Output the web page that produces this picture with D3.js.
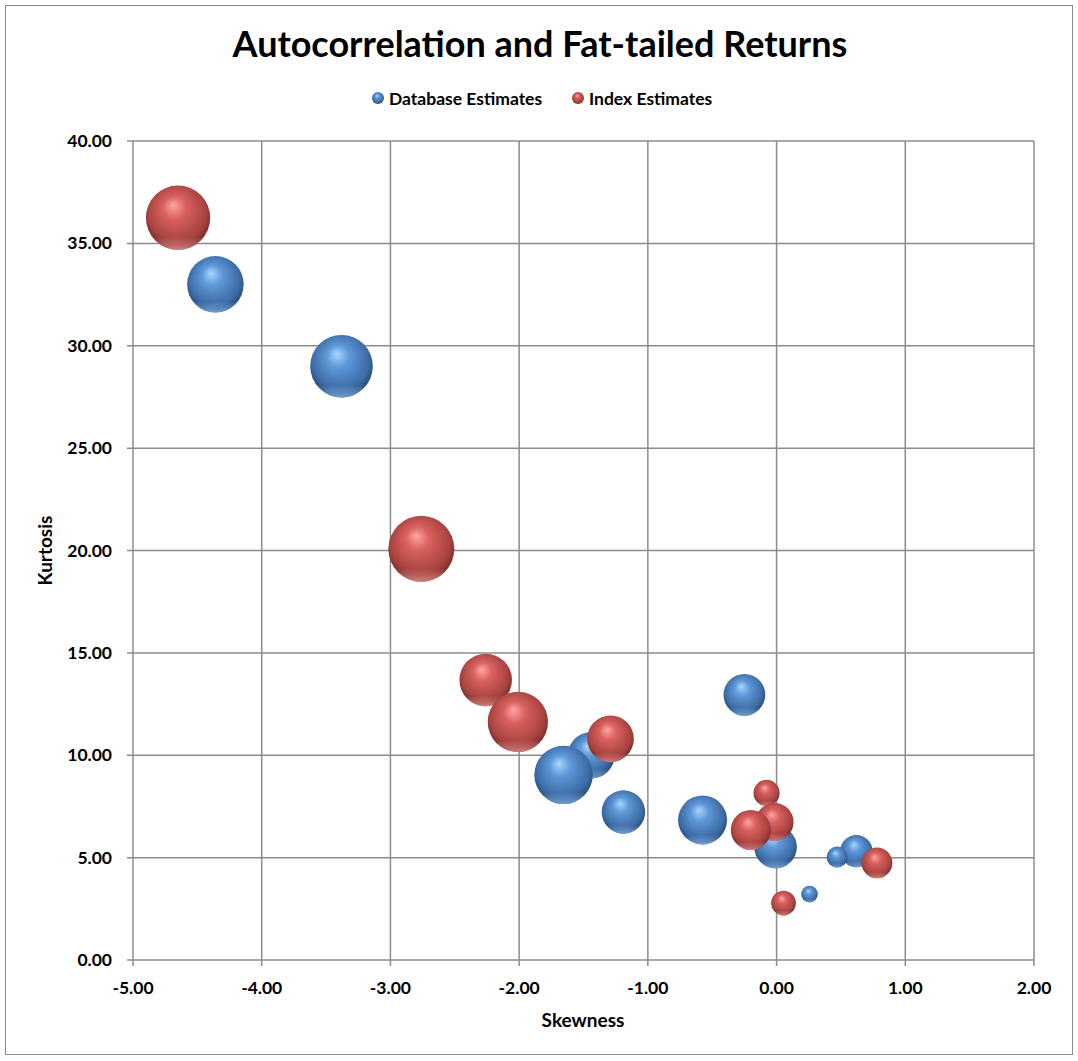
<!DOCTYPE html>
<html><head><meta charset="utf-8">
<script src="https://cdn.jsdelivr.net/npm/d3@7"></script>
<style>body{margin:0;background:#fff}svg{display:block}text{font-family:Lato,"Open Sans",sans-serif;font-weight:bold;fill:#000}</style>
</head><body>
<script>
const title = "Autocorrelation and Fat-tailed Returns";
const seriesNames = ["Database Estimates", "Index Estimates"];
// Database Estimates: skewness, kurtosis, bubble size
const dbSkew = [-4.36, -3.38, -0.25, -1.44, -1.655, -1.19, -0.575, -0.008, 0.62, 0.47, 0.256];
const dbKurt = [33.0, 29.0, 12.95, 10.0, 9.04, 7.23, 6.84, 5.52, 5.32, 5.03, 3.22];
const dbSize = [0.22, 0.27, 0.12, 0.15, 0.235, 0.13, 0.165, 0.125, 0.072, 0.03, 0.019];
// Index Estimates
const ixSkew = [-4.65, -2.76, -2.26, -2.01, -1.29, -0.078, -0.016, -0.2, 0.78, 0.054];
const ixKurt = [36.25, 20.08, 13.68, 11.63, 10.8, 8.16, 6.74, 6.35, 4.74, 2.78];
const ixSize = [0.285, 0.3, 0.19, 0.25, 0.15, 0.047, 0.1, 0.11, 0.065, 0.042];
const xTicks = [-5, -4, -3, -2, -1, 0, 1, 2];
const yTicks = [0, 5, 10, 15, 20, 25, 30, 35, 40];
const xTitle = "Skewness", yTitle = "Kurtosis";

const W = 1078, H = 1061;
const m = {l:133, r:1034, t:141, b:960};
const fmt = d3.formatLocale({decimal:".", thousands:",", grouping:[3], currency:["",""], minus:"-"}).format(".2f");
const svg = d3.select("body").append("svg").attr("width", W).attr("height", H);
svg.append("rect").attr("x",5.5).attr("y",5.5).attr("width",1067).attr("height",1049)
  .attr("fill","#fff").attr("stroke","#8c8c8c").attr("stroke-width",1);

const x = d3.scaleLinear().domain([-5,2]).range([m.l,m.r]);
const y = d3.scaleLinear().domain([0,40]).range([m.b,m.t]);
const r = d3.scaleSqrt().domain([0,0.3]).range([0,33]);

const defs = svg.append("defs");
function sphereGrad(id, c0, c1, c2, c3, rim){
  const g = defs.append("radialGradient").attr("id",id)
    .attr("cx","0.5").attr("cy","0.45").attr("r","0.6").attr("fx","0.42").attr("fy","0.3");
  g.append("stop").attr("offset","0").attr("stop-color",c0);
  g.append("stop").attr("offset","0.3").attr("stop-color",c1);
  g.append("stop").attr("offset","0.75").attr("stop-color",c2);
  g.append("stop").attr("offset","1").attr("stop-color",c3);
  const l = defs.append("linearGradient").attr("id",id+"r").attr("x1",0).attr("y1",0).attr("x2",0).attr("y2",1);
  l.append("stop").attr("offset","0.8").attr("stop-color",rim).attr("stop-opacity",0);
  l.append("stop").attr("offset","1").attr("stop-color",rim).attr("stop-opacity",0.75);
}
sphereGrad("gb","#a9d6ff","#5f98d8","#3d6ca6","#1e3a63","#8cbcf0");
sphereGrad("gr","#ffa5a5","#d9615e","#a84340","#5e2220","#f09a98");

// gridlines
const g = svg.append("g");
g.selectAll(".gx").data(xTicks).join("line")
  .attr("x1",d=>x(d)).attr("x2",d=>x(d)).attr("y1",m.t).attr("y2",m.b+6)
  .attr("stroke","#8c8c8c").attr("stroke-width",1.5);
g.selectAll(".gy").data(yTicks).join("line")
  .attr("x1",m.l-6).attr("x2",m.r).attr("y1",d=>y(d)).attr("y2",d=>y(d))
  .attr("stroke","#8c8c8c").attr("stroke-width",1.5);

g.selectAll(".tx").data(xTicks).join("text")
  .attr("x",d=>x(d)).attr("y",m.b+34).attr("text-anchor","middle").attr("font-size",17.5)
  .text(d=>fmt(d));
g.selectAll(".ty").data(yTicks).join("text")
  .attr("x",m.l-21).attr("y",d=>y(d)+6).attr("text-anchor","end").attr("font-size",17.5)
  .text(d=>fmt(d));

svg.append("text").attr("x",583).attr("y",1027).attr("text-anchor","middle").attr("font-size",19).text(xTitle);
svg.append("text").attr("transform",`translate(52,${(m.t+m.b)/2}) rotate(-90)`).attr("text-anchor","middle").attr("font-size",19).text(yTitle);
svg.append("text").attr("x",540).attr("y",57).attr("text-anchor","middle").attr("font-size",36).text(title);

function bubbles(sk, ku, sz, grad){
  const data = sk.map((d,i)=>({x:d, y:ku[i], s:sz[i]}));
  const gg = svg.append("g");
  const b = gg.selectAll("g").data(data).join("g");
  b.append("circle").attr("cx",d=>x(d.x)).attr("cy",d=>y(d.y)).attr("r",d=>r(d.s)).attr("fill",`url(#${grad})`);
  b.append("circle").attr("cx",d=>x(d.x)).attr("cy",d=>y(d.y)).attr("r",d=>r(d.s)).attr("fill",`url(#${grad}r)`);
}
bubbles(dbSkew, dbKurt, dbSize, "gb");
bubbles(ixSkew, ixKurt, ixSize, "gr");

// legend
const lg = svg.append("g");
const items = [{n:seriesNames[0], g:"gb", x:378},{n:seriesNames[1], g:"gr", x:578}];
items.forEach(it=>{
  lg.append("circle").attr("cx",it.x).attr("cy",98).attr("r",6).attr("fill",`url(#${it.g})`);
  lg.append("text").attr("x",it.x+11).attr("y",105).attr("font-size",17.5).text(it.n);
});
</script>
</body></html>
